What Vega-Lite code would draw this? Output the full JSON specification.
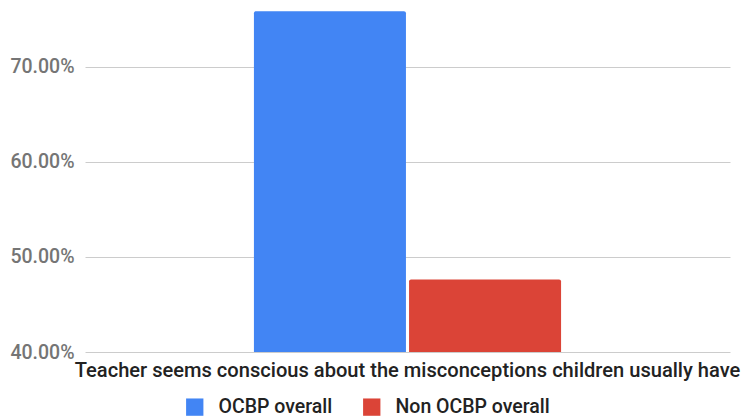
{
  "$schema": "https://vega.github.io/schema/vega-lite/v6.json",
  "width": 645,
  "height": 352,
  "autosize": {"type": "none"},
  "padding": {"left": 85, "top": 0, "right": 12, "bottom": 65},
  "background": "white",
  "config": {
    "view": {"stroke": null},
    "font": "Roboto"
  },
  "data": {
    "values": [
      {"question": "Teacher seems conscious about the misconceptions children usually have", "group": "OCBP overall", "share": 0.7586},
      {"question": "Teacher seems conscious about the misconceptions children usually have", "group": "Non OCBP overall", "share": 0.4762}
    ]
  },
  "mark": {"type": "bar", "cornerRadiusTopLeft": 2, "cornerRadiusTopRight": 2},
  "encoding": {
    "x": {
      "field": "question",
      "type": "nominal",
      "scale": {"paddingOuter": 0.55, "paddingInner": 0},
      "axis": {
        "title": null,
        "labelAngle": 0,
        "labelLimit": 900,
        "labelFontSize": 20.1,
        "labelFontWeight": 500,
        "labelColor": "#222222",
        "labelPadding": 8,
        "ticks": false,
        "domain": false
      }
    },
    "xOffset": {
      "field": "group",
      "type": "nominal",
      "sort": ["OCBP overall", "Non OCBP overall"],
      "scale": {"paddingInner": 0.02, "paddingOuter": 0}
    },
    "y": {
      "field": "share",
      "type": "quantitative",
      "scale": {"domain": [0.4, 0.7705], "zero": false, "nice": false},
      "axis": {
        "title": null,
        "format": ".2%",
        "values": [0.4, 0.5, 0.6, 0.7],
        "labelFontSize": 19.5,
        "labelFontWeight": 500,
        "labelColor": "#757575",
        "labelPadding": 11,
        "ticks": false,
        "domain": false,
        "gridColor": "#cccccc",
        "gridWidth": 1
      }
    },
    "y2": {"datum": 0.4},
    "color": {
      "field": "group",
      "type": "nominal",
      "scale": {"domain": ["OCBP overall", "Non OCBP overall"], "range": ["#4285F4", "#DB4437"]},
      "legend": {
        "title": null,
        "orient": "none",
        "direction": "horizontal",
        "legendX": 100,
        "legendY": 397,
        "symbolType": "square",
        "symbolSize": 300,
        "symbolStrokeWidth": 0,
        "symbolOpacity": 1,
        "labelFontSize": 19.5,
        "labelFontWeight": 500,
        "labelColor": "#222222",
        "labelOffset": 14,
        "columnPadding": 29
      }
    }
  }
}
